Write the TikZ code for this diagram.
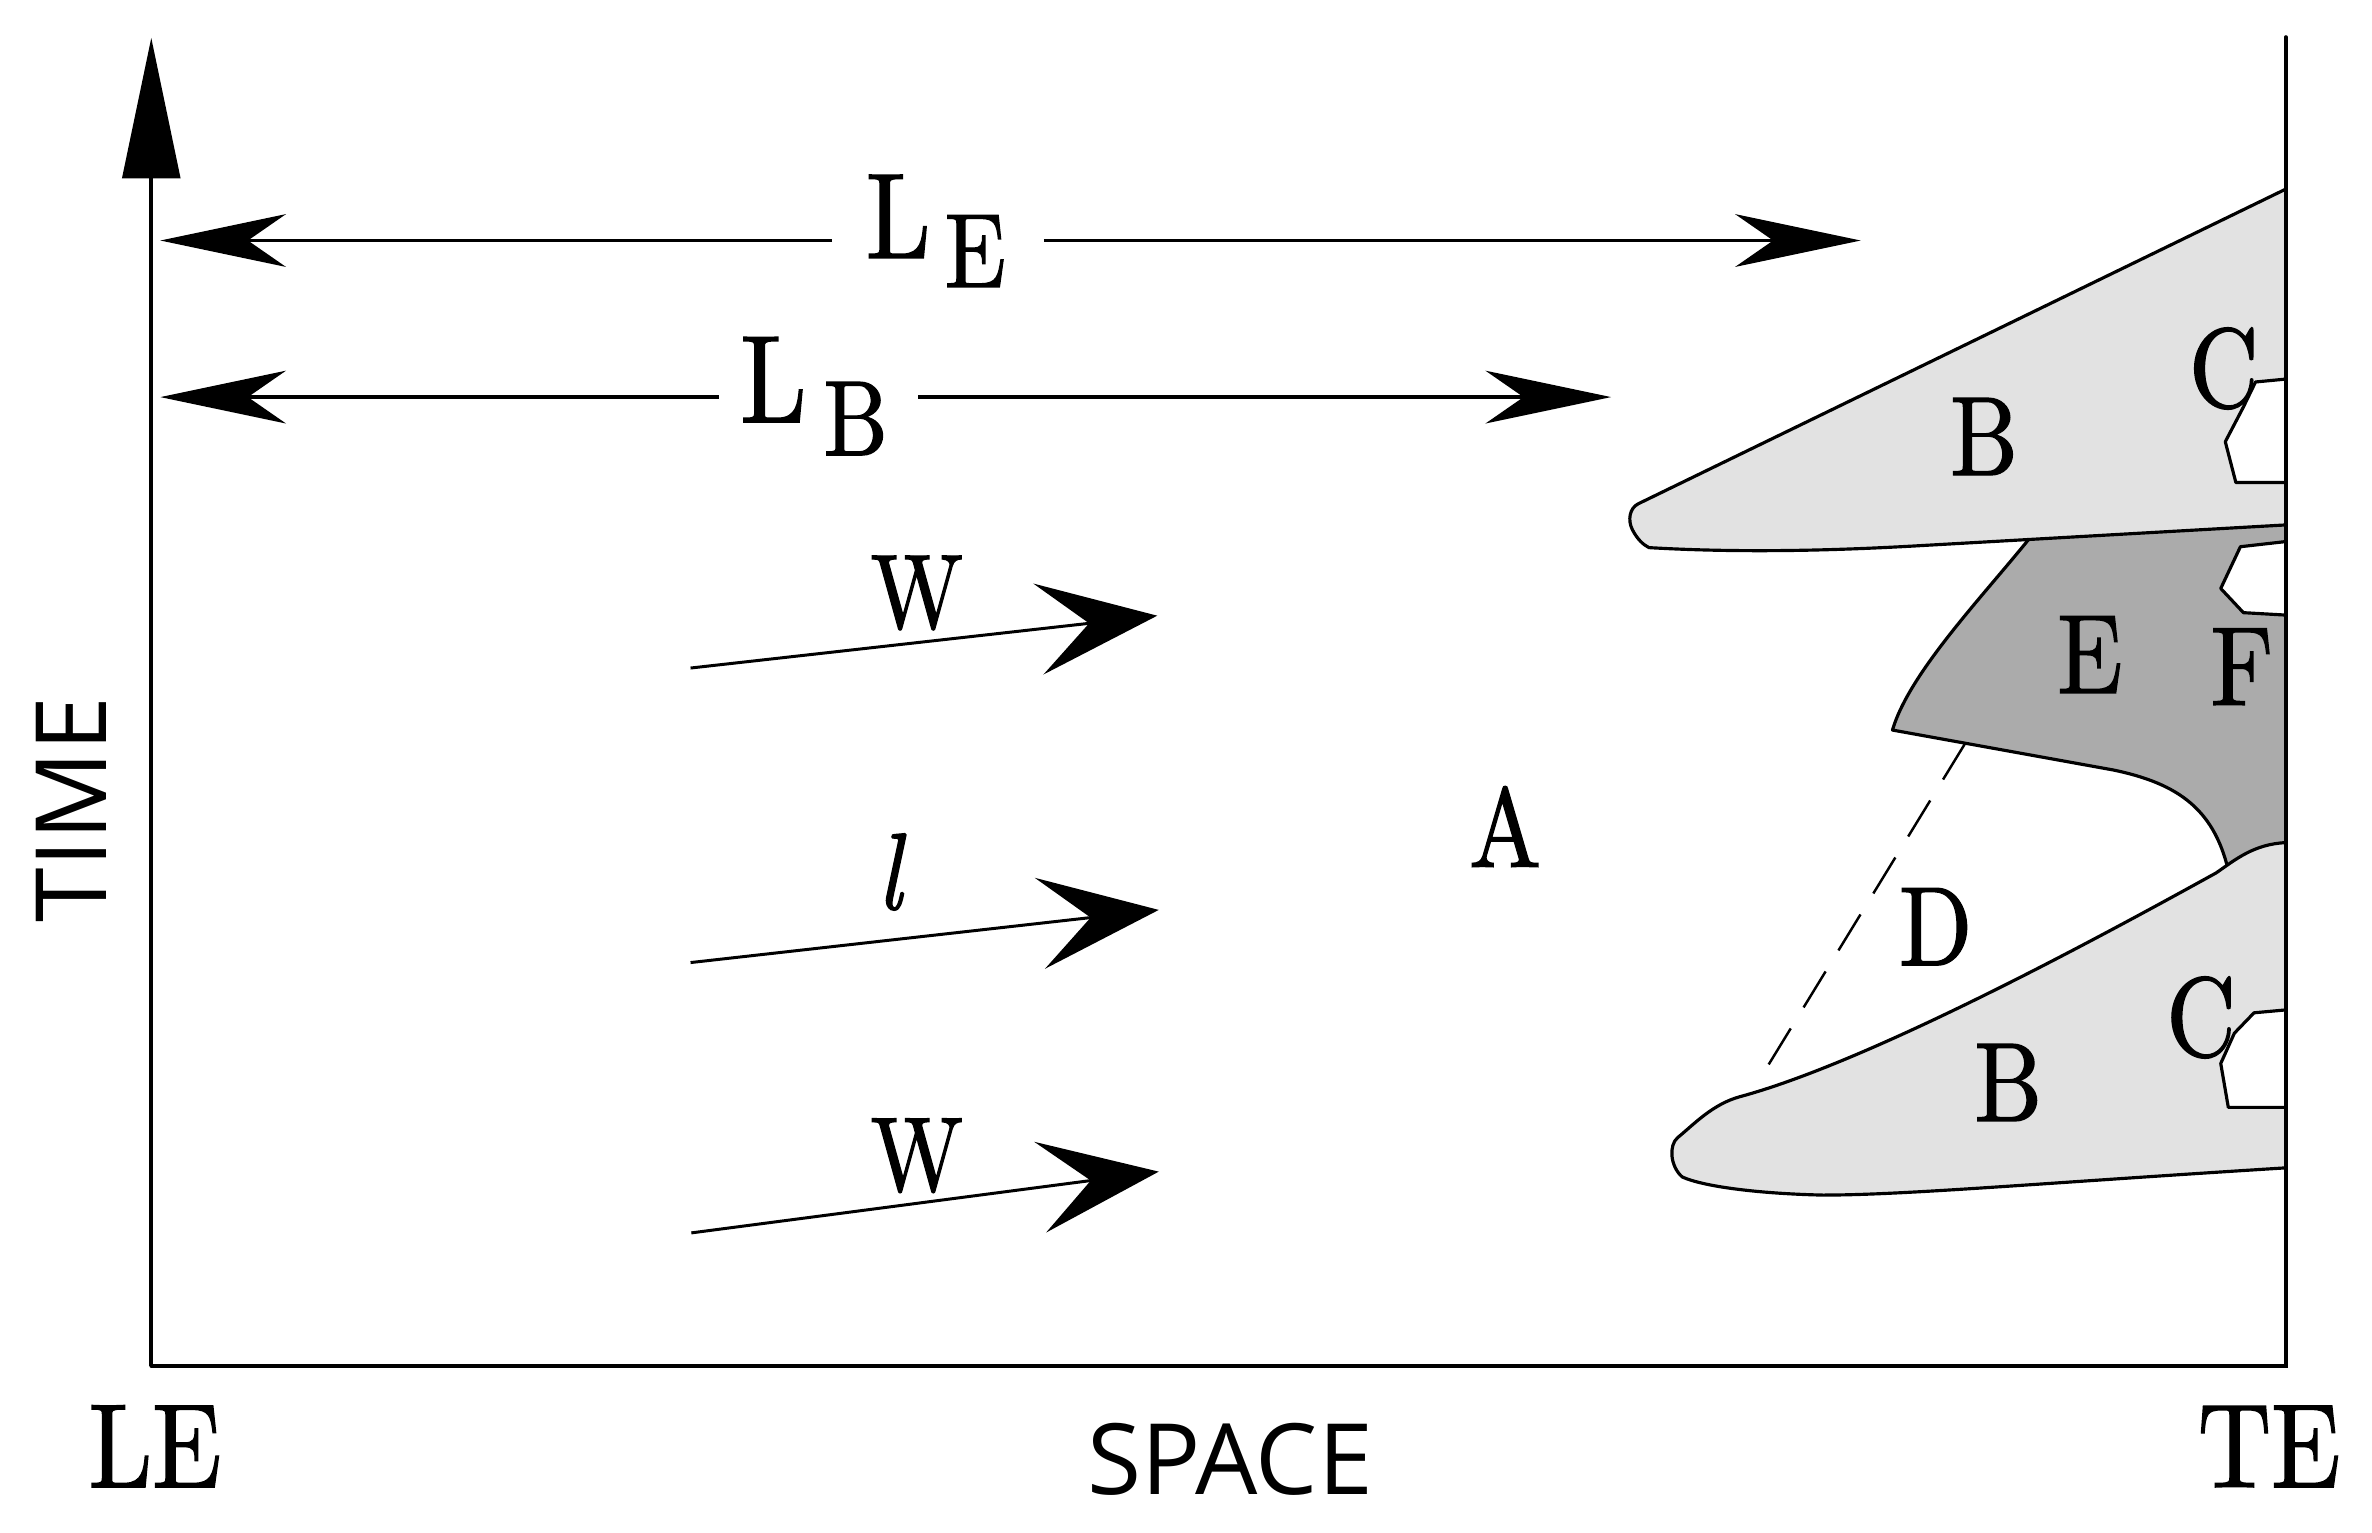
\documentclass[tikz,border=0pt]{standalone}
\usepackage{fontspec}
\newfontfamily\osans{Open Sans}
\newfontfamily\nrm[FakeStretch=0.85,FakeBold=1.2]{lmroman10-regular.otf}
\newfontfamily\nit[FakeStretch=0.85,FakeBold=1.2]{lmroman10-italic.otf}
\usetikzlibrary{arrows.meta}
\definecolor{lightfill}{HTML}{E2E2E2}
\definecolor{darkfill}{HTML}{ABABAB}
\begin{document}
\begin{tikzpicture}[x=0.015128cm,y=-0.015128cm,
  outline/.style={draw=black,line width=0.9pt,line join=round},
  axisline/.style={line width=1.05pt},
  larrow/.style={line width=0.95pt,-{Stealth[length=35.7pt,width=15pt,inset=10.8pt]}},
  warrow/.style={line width=0.85pt,-{Stealth[length=34pt,width=26pt,inset=14.5pt]}},
  region/.style={inner sep=0pt,anchor=base,font=\nrm\fontsize{32}{38}\selectfont},
  edge label/.style={inner sep=0pt,anchor=base,font=\nrm\fontsize{34}{40}\selectfont},
  axis label/.style={inner sep=0pt,font=\osans\fontsize{28}{34}\selectfont}]
\useasboundingbox (0,0) rectangle (1568,1013);

% ---------- coordinates ----------
\coordinate (O) at (100,903);
\coordinate (Ytop) at (100,25);
\coordinate (BR) at (1511,903);
\coordinate (TR) at (1511,24.5);
\coordinate (LEa) at (106,159);
\coordinate (LEb) at (550,159);
\coordinate (LEc) at (690,159);
\coordinate (LEd) at (1230,159);
\coordinate (LBa) at (106,262.5);
\coordinate (LBb) at (475,262.5);
\coordinate (LBc) at (607,262.5);
\coordinate (LBd) at (1065,262.5);
\coordinate (W1s) at (456.5,441.6);
\coordinate (W1e) at (765,407);
\coordinate (l1s) at (456.5,636.3);
\coordinate (l1e) at (766,601.5);
\coordinate (W2s) at (457,815);
\coordinate (W2e) at (766,774.5);
\coordinate (Dtop) at (1299,491.5);
\coordinate (Dbot) at (1161,717);

% ---------- region E (dark) ----------
\fill[darkfill] (1511,347) -- (1341,356.6)
  .. controls (1310,395) and (1262,445) .. (1251,482.6)
  -- (1397,509) .. controls (1440,518) and (1465,535) .. (1474,580)
  -- (1474,600) -- (1511,600) -- cycle;
\draw[outline] (1341,356.6)
  .. controls (1310,395) and (1262,445) .. (1251,482.6)
  -- (1397,509) .. controls (1440,518) and (1465,535) .. (1474,580);

% ---------- lower B ----------
\filldraw[outline,fill=lightfill] (1511,557)
  .. controls (1490,558) and (1478,568) .. (1465,577)
  .. controls (1380,624) and (1235,702) .. (1150,725)
  .. controls (1132,730) and (1120,743) .. (1109,752)
  .. controls (1103,757) and (1104,771) .. (1112,778)
  .. controls (1125,784) and (1160,789) .. (1205,790)
  .. controls (1260,790) and (1350,782) .. (1511,772) -- cycle;

% ---------- upper B ----------
\filldraw[outline,fill=lightfill] (1511,125) -- (1083,333)
  .. controls (1077,336) and (1076,344) .. (1079,350)
  .. controls (1082,356) and (1086,360) .. (1090,362)
  .. controls (1150,365.5) and (1210,364) .. (1264,361)
  -- (1511,347) -- cycle;

% ---------- white notches ----------
\filldraw[outline,fill=white] (1511,250.6) -- (1491,252.5) -- (1483,269) -- (1471,292) -- (1478,319) -- (1511,319);
\filldraw[outline,fill=white] (1511,358) -- (1481,361.4) -- (1468,389) -- (1483,405) -- (1511,406.6);
\filldraw[outline,fill=white] (1511,667.6) -- (1490,669.5) -- (1477,683) -- (1468,703) -- (1473,732) -- (1511,732);

% ---------- dashed boundary ----------
\draw[line width=0.7pt,dash pattern=on 12pt off 7pt] (Dtop) -- (Dbot);

% ---------- axes ----------
\draw[axisline,line cap=round] (O) -- (BR) -- (TR);
\draw[axisline,-{Triangle[length=40pt,width=16.4pt]}] (O) -- (Ytop);

% ---------- length arrows ----------
\draw[larrow] (LEb) -- (LEa);
\draw[larrow] (LEc) -- (LEd);
\draw[larrow] (LBb) -- (LBa);
\draw[larrow] (LBc) -- (LBd);
\node[inner sep=0pt,anchor=base west] (LE label) at (572,170.5)
  {\nrm\fontsize{34.6}{40}\selectfont L\kern4pt\raisebox{-8.25pt}{\fontsize{30}{36}\selectfont E}};
\node[inner sep=0pt,anchor=base west] (LB label) at (489,279)
  {\nrm\fontsize{35.4}{41}\selectfont L\kern4.8pt\raisebox{-9.4pt}{\fontsize{30.4}{36}\selectfont B}};

% ---------- flow arrows ----------
\draw[warrow] (W1s) -- (W1e);
\draw[warrow] (l1s) -- (l1e);
\draw[warrow] (W2s) -- (W2e);
\node[inner sep=0pt,anchor=base,font=\nrm\fontsize{30}{35}\selectfont] (W1) at (606,415) {W};
\node[inner sep=0pt,anchor=base,font=\nit\fontsize{31}{36}\selectfont] (l1) at (588,601) {l};
\node[inner sep=0pt,anchor=base,font=\nrm\fontsize{30}{35}\selectfont] (W2) at (606,787) {W};

% ---------- region labels ----------
\node[region] (A) at (995,573) {A};
\node[region] (B1) at (1311.5,314) {B};
\node[region] (C1) at (1470,269) {C};
\node[region] (E) at (1381.5,458) {E};
\node[region] (F) at (1482,466) {F};
\node[region] (D) at (1279.5,638) {D};
\node[region] (C2) at (1455,698) {C};
\node[region] (B2) at (1327.5,741) {B};

% ---------- axis labels ----------
\node[edge label] (LE) at (102.5,983) {LE};
\node[edge label] (TE) at (1500,983) {TE};
\node[axis label,anchor=base] (space) at (813,988) {SPACE};
\node[axis label,rotate=90] (time) at (47,535) {TIME};
\end{tikzpicture}
\end{document}
